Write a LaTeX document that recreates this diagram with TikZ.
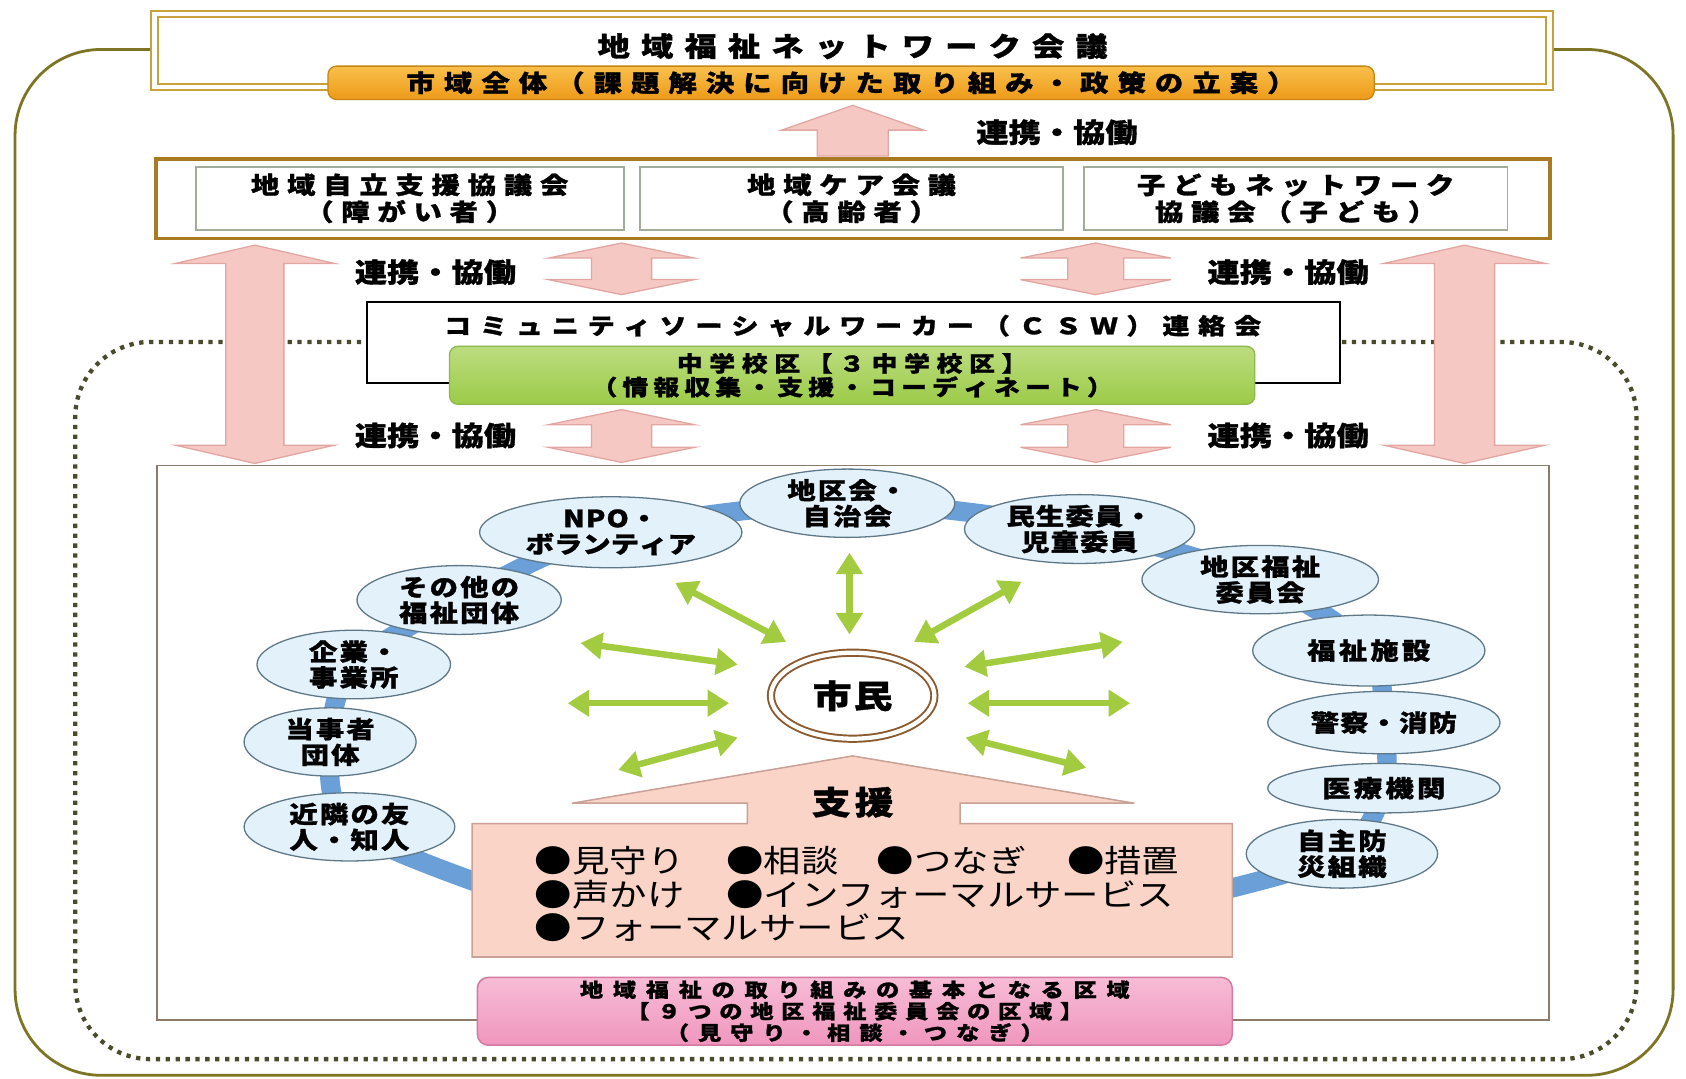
\documentclass[tikz,border=0pt]{standalone}
\usepackage{fontspec}
\usetikzlibrary{shapes.geometric,arrows.meta}
\newfontfamily\jp[FakeStretch=1.2,BoldFeatures={FakeBold=1.2}]{Noto Sans CJK JP}
\makeatletter
\newcommand\spx[2]{{\def\spx@s{}\@tfor\spx@c:=#2\do{\spx@s\spx@c\def\spx@s{\hspace{#1}}}}}
\makeatother
\newcommand\jsz[2]{\fontsize{#1}{#2}\selectfont}
\newcommand\renkei{\spx{0pt}{連携・協働}}
\definecolor{gold}{HTML}{C9A13B}
\definecolor{frameol}{HTML}{7D7424}
\definecolor{rowbrd}{HTML}{A97A22}
\definecolor{innerbrd}{HTML}{A3AC98}
\definecolor{pinkar}{HTML}{F6C8C3}
\definecolor{pinkarb}{HTML}{E2A6A2}
\definecolor{orgA}{HTML}{F9C04C}
\definecolor{orgB}{HTML}{EE9A18}
\definecolor{orgbrd}{HTML}{C98512}
\definecolor{grnA}{HTML}{BCDD80}
\definecolor{grnB}{HTML}{9CCB48}
\definecolor{grnbrd}{HTML}{8DB84A}
\definecolor{dotc}{HTML}{4A4A2C}
\definecolor{mainbrd}{HTML}{8C7B69}
\definecolor{ellfill}{HTML}{E3F1FA}
\definecolor{ellline}{HTML}{5E7888}
\definecolor{chainc}{HTML}{6A9FD8}
\definecolor{garc}{HTML}{A2CB40}
\definecolor{shiminc}{HTML}{8B5A2E}
\definecolor{supf}{HTML}{F9D4C7}
\definecolor{supb}{HTML}{C9A196}
\definecolor{pnkA}{HTML}{F7BCD6}
\definecolor{pnkB}{HTML}{F096BE}
\definecolor{pnkbrd}{HTML}{D4799F}
\newcommand\pdarrow[6]{%
 \filldraw[pinkarr] (#1,#2) -- ({#1+#4},{#2+#6}) -- ({#1+#5},{#2+#6}) -- ({#1+#5},{#3-#6}) -- ({#1+#4},{#3-#6}) -- (#1,#3) -- ({#1-#4},{#3-#6}) -- ({#1-#5},{#3-#6}) -- ({#1-#5},{#2+#6}) -- ({#1-#4},{#2+#6}) -- cycle;}
\begin{document}
\begin{tikzpicture}[x=0.5pt,y=-0.5pt,
  txt/.style={inner sep=0pt, align=center},
  topbox/.style={draw=gold, double=white, double distance=2.2pt, line width=0.9pt, fill=white, inner sep=0pt},
  banner/.style={draw=orgbrd, line width=0.6pt, rounded corners=4pt, top color=orgA, bottom color=orgB, inner sep=0pt, font=\jp\bfseries\jsz{11pt}{13pt}},
  rowbox/.style={draw=rowbrd, line width=1.8pt, fill=white, inner sep=0pt},
  inbox/.style={draw=innerbrd, line width=0.9pt, fill=white, inner sep=0pt, align=center, font=\jp\bfseries\jsz{11pt}{12.5pt}},
  pinkarr/.style={fill=pinkar, draw=pinkarb, line width=0.6pt},
  lbl/.style={inner sep=0pt, font=\jp\bfseries\jsz{12.5pt}{14pt}},
  gbox/.style={draw=grnbrd, line width=0.6pt, rounded corners=4pt, top color=grnA, bottom color=grnB, inner sep=0pt, align=center, font=\jp\bfseries\jsz{10pt}{11pt}},
  ell/.style={ellipse, draw=ellline, fill=ellfill, line width=0.6pt, inner sep=0pt, align=center, font=\jp\bfseries\jsz{11pt}{12pt}},
  garrow/.style={draw=garc, line width=3pt, {Triangle[length=10pt,width=12pt]}-{Triangle[length=10pt,width=12pt]}},
  bul/.style={inner sep=0pt, anchor=west, font=\jp\jsz{14.5pt}{16pt}},
  pbox/.style={draw=pnkbrd, line width=0.7pt, rounded corners=5pt, top color=pnkA, bottom color=pnkB, inner sep=0pt, align=center, font=\jp\bfseries\jsz{9pt}{10pt}}
]
\fill[white] (0,0) rectangle (1568,1003);
\useasboundingbox (0,0) rectangle (1568,1003);

% outer frame and dotted frame
\draw[frameol, line width=1.3pt, rounded corners=40pt] (145,46) -- (14,46) -- (14,1000) -- (1556,1000) -- (1556,46) -- (1440,46);
\draw[dotc, line width=2pt, dash pattern=on 2pt off 2.6pt, rounded corners=35pt] (345,318) -- (70,318) -- (70,985) -- (1522,985) -- (1522,318) -- (1240,318);

% top box
\node[topbox, minimum width=648.5pt, minimum height=34pt, anchor=north west] (top) at (143,12) {};
\node[txt, font=\jp\bfseries\jsz{12.5pt}{14pt}] (title) at (793,43) {\spx{5.2pt}{地域福祉ネットワーク会議}};
\node[banner, minimum width=486.5pt, minimum height=15.5pt] (banner) at (791.5,77) {\spx{4.2pt}{市域全体（課題解決に向けた取り組み・政策の立案）}};

% up arrow
\filldraw[pinkarr] (793,98) -- (859,121) -- (826,121) -- (826,145) -- (760,145) -- (760,121) -- (727,121) -- cycle;
\node[lbl] (l0) at (983,123) {\renkei};

% row of councils
\node[rowbox, minimum width=648.5pt, minimum height=37pt, anchor=north west] (row) at (143,146) {};
\node[inbox, minimum width=199pt, minimum height=29.5pt] (rA) at (381,184.5) {\spx{3.6pt}{地域自立支援協議会}\\\spx{3.6pt}{（障がい者）}};
\node[inbox, minimum width=197pt, minimum height=29.5pt] (rB) at (792,184.5) {\spx{3.6pt}{地域ケア会議}\\\spx{3.6pt}{（高齢者）}};
\node[inbox, minimum width=197pt, minimum height=29.5pt] (rC) at (1205,184.5) {\spx{3.6pt}{子どもネットワーク}\\\spx{3.6pt}{協議会（子ども）}};

% main box
\node[draw=mainbrd, line width=0.8pt, fill=white, inner sep=0pt, minimum width=647.5pt, minimum height=258pt, anchor=north west] (mainbox) at (145,432) {};

% pink double arrows
\pdarrow{237}{228}{431}{74}{27}{17}
\pdarrow{1362}{228}{431}{75}{28}{17}
\pdarrow{578}{226}{274}{68}{28}{14}
\pdarrow{1019}{226}{274}{70}{26}{14}
\pdarrow{578}{381}{430}{68}{28}{14}
\pdarrow{1019}{381}{430}{70}{26}{14}
\node[lbl] (l1) at (405,253) {\renkei};
\node[lbl] (l2) at (1198,253) {\renkei};
\node[lbl] (l3) at (405,405) {\renkei};
\node[lbl] (l4) at (1198,405) {\renkei};

% CSW box
\node[draw=black, line width=1.1pt, fill=white, inner sep=0pt, minimum width=452.5pt, minimum height=37.5pt, anchor=north west] (csw) at (340,280) {};
\node[txt, font=\jp\bfseries\jsz{10.5pt}{12pt}] (cswt) at (793,303) {\spx{4.1pt}{コミュニティソーシャルワーカー（ＣＳＷ）連絡会}};
\node[gbox, minimum width=374.5pt, minimum height=27pt] (jhs) at (792.5,349) {\spx{3.1pt}{中学校区【３中学校区】}\\\spx{2.4pt}{（情報収集・支援・コーディネート）}};

% chain of organisations
\coordinate (cL) at (470,830);
\coordinate (c1) at (325,769);
\coordinate (c2) at (307,690);
\coordinate (c3) at (329,618);
\coordinate (c4) at (427,558);
\coordinate (c5) at (568,495);
\coordinate (c6) at (788,468);
\coordinate (c7) at (1004,492);
\coordinate (c8) at (1172,539);
\coordinate (c9) at (1273,605);
\coordinate (c10) at (1287,672);
\coordinate (c11) at (1287,733);
\coordinate (c12) at (1248,794);
\coordinate (cR) at (1120,832);
\draw[chainc, line width=9pt] plot[smooth, tension=0.5] coordinates {(cL) (c1) (c2) (c3) (c4) (c5) (c6) (c7) (c8) (c9) (c10) (c11) (c12) (cR)};

\node[ell, minimum width=98pt, minimum height=28pt] (kinrin) at (c1) {\spx{1pt}{近隣の友}\\\spx{1pt}{人・知人}};
\node[ell, minimum width=80pt, minimum height=31pt] (tojisha) at (c2) {\spx{1pt}{当事者}\\\spx{1pt}{団体}};
\node[ell, minimum width=90pt, minimum height=28pt] (kigyo) at (c3) {\spx{1pt}{企業・}\\\spx{1pt}{事業所}};
\node[ell, minimum width=95pt, minimum height=32pt] (sonota) at (c4) {\spx{1pt}{その他の}\\\spx{1pt}{福祉団体}};
\node[ell, minimum width=122pt, minimum height=33pt] (npo) at (c5) {\spx{0.5pt}{NPO・}\\\spx{0pt}{ボランティア}};
\node[ell, minimum width=100pt, minimum height=28pt] (chiku) at (c6) {\spx{1pt}{地区会・}\\\spx{1pt}{自治会}};
\node[ell, minimum width=107pt, minimum height=32pt] (minsei) at (c7) {\spx{0.5pt}{民生委員・}\\\spx{0.5pt}{児童委員}};
\node[ell, minimum width=110pt, minimum height=29pt] (chikufuku) at (c8) {\spx{1pt}{地区福祉}\\\spx{1pt}{委員会}};
\node[ell, minimum width=108pt, minimum height=33pt] (shisetsu) at (c9) {\spx{1.5pt}{福祉施設}};
\node[ell, minimum width=108pt, minimum height=29pt] (keisatsu) at (c10) {\spx{0.5pt}{警察・消防}};
\node[ell, minimum width=108pt, minimum height=23pt] (iryo) at (c11) {\spx{1.5pt}{医療機関}};
\node[ell, minimum width=89pt, minimum height=31pt] (jishu) at (c12) {\spx{1pt}{自主防}\\\spx{1pt}{災組織}};

% citizens
\node[ellipse, draw=shiminc, double=white, double distance=2pt, line width=0.9pt, fill=white, minimum width=76pt, minimum height=40pt, inner sep=0pt, font=\jp\bfseries\jsz{15pt}{17pt}] (shimin) at (793,647) {\spx{1pt}{市民}};

% green double arrows
\foreach \i/\ax/\ay/\bx/\by in {1/790/514/790/590, 2/628/542/731/597, 3/950/541/850/597, 4/540/598/686/618, 5/528/654/678/654, 6/575/716/686/686, 7/897/620/1044/597, 8/900/654/1051/654, 9/898/686/1010/714}{
  \coordinate (g\i a) at (\ax,\ay);
  \coordinate (g\i b) at (\bx,\by);
  \draw[garrow] (g\i a) -- (g\i b);
}

% support shape
\filldraw[fill=supf, draw=supb, line width=0.7pt] (439,766) -- (695,766) -- (695,747) -- (532,747) -- (793,703) -- (1055,747) -- (893,747) -- (893,766) -- (1146,766) -- (1146,890) -- (439,890) -- cycle;
\node[txt, font=\jp\bfseries\jsz{15pt}{17pt}] (shien) at (793,746) {\spx{2pt}{支援}};
\node[bul] (b1) at (497,800) {●見守り};
\node[bul] (b2) at (675,800) {●相談};
\node[bul] (b3) at (815,800) {●つなぎ};
\node[bul] (b4) at (992,800) {●措置};
\node[bul] (b5) at (497,832) {●声かけ};
\node[bul] (b6) at (675,832) {●インフォーマルサービス};
\node[bul] (b7) at (497,863) {●フォーマルサービス};

% base area box
\node[pbox, minimum width=351pt, minimum height=31.5pt] (area) at (795,940.5) {\spx{4.5pt}{地域福祉の取り組みの基本となる区域}\\\spx{3.6pt}{【９つの地区福祉委員会の区域】}\\\spx{4.2pt}{（見守り・相談・つなぎ）}};
\end{tikzpicture}
\end{document}
